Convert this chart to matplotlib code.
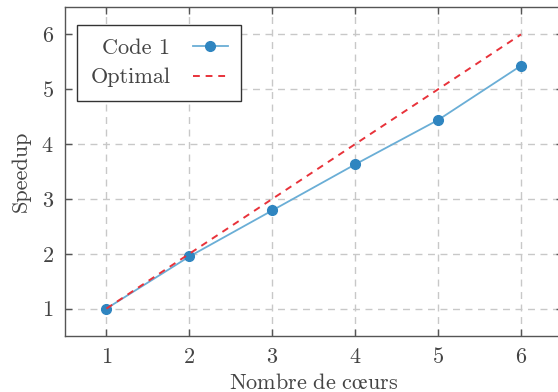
import matplotlib
matplotlib.use("Agg")
import matplotlib.pyplot as plt

cores = [1, 2, 3, 4, 5, 6]
code1 = [1.0, 1.95, 2.79, 3.63, 4.44, 5.43]
optimal = [1, 2, 3, 4, 5, 6]
xticks = [1, 2, 3, 4, 5, 6]
yticks = [1, 2, 3, 4, 5, 6]

plt.rcParams['font.family'] = ['cmr10', 'DejaVu Serif']
plt.rcParams['mathtext.fontset'] = 'cm'
plt.rcParams['axes.formatter.use_mathtext'] = True

fig = plt.figure(figsize=(5.58, 3.92), dpi=100)
ax = fig.add_axes([65/558, 56/392, 497.5/558, 329/392])

gray = '#555555'
txt = '#444444'

ax.plot(cores, code1, color='#6aaed6', lw=1.3, marker='o', ms=7,
        mfc='#2f85c0', mec='#2f85c0', label='Code 1', zorder=3)
ax.plot(cores, optimal, color='#e8323a', lw=1.4, ls=(0, (3.5, 3)),
        label='Optimal', zorder=4)

ax.set_xlim(0.5, 6.5)
ax.set_ylim(0.5, 6.5)
ax.set_xticks(xticks)
ax.set_yticks(yticks)
ax.grid(True, color='#c8c8c8', ls=(0, (5, 4)), lw=1.0)
ax.set_axisbelow(True)

for s in ax.spines.values():
    s.set_color(gray)
    s.set_linewidth(1.0)

ax.tick_params(direction='in', length=5, width=1.0, color=gray,
               labelcolor=txt, labelsize=16, top=True, right=True, pad=8)

ax.set_xlabel(r'$\mathrm{Nombre\ de\ c\oe urs}$', fontsize=16, color=txt, labelpad=4)
ax.set_ylabel('Speedup', fontsize=16, color=txt, labelpad=8)

leg = ax.legend(loc='upper left', bbox_to_anchor=(12/497.5, 1 - 18/329),
                fontsize=16, markerfirst=False, fancybox=False,
                framealpha=1, edgecolor='#333333', handlelength=1.6,
                handletextpad=1.0, borderpad=0.6, labelspacing=0.45,
                borderaxespad=0)
leg.get_frame().set_linewidth(1.0)
for t in leg.get_texts():
    t.set_color(txt)

fig.savefig('out.png', dpi=100)
